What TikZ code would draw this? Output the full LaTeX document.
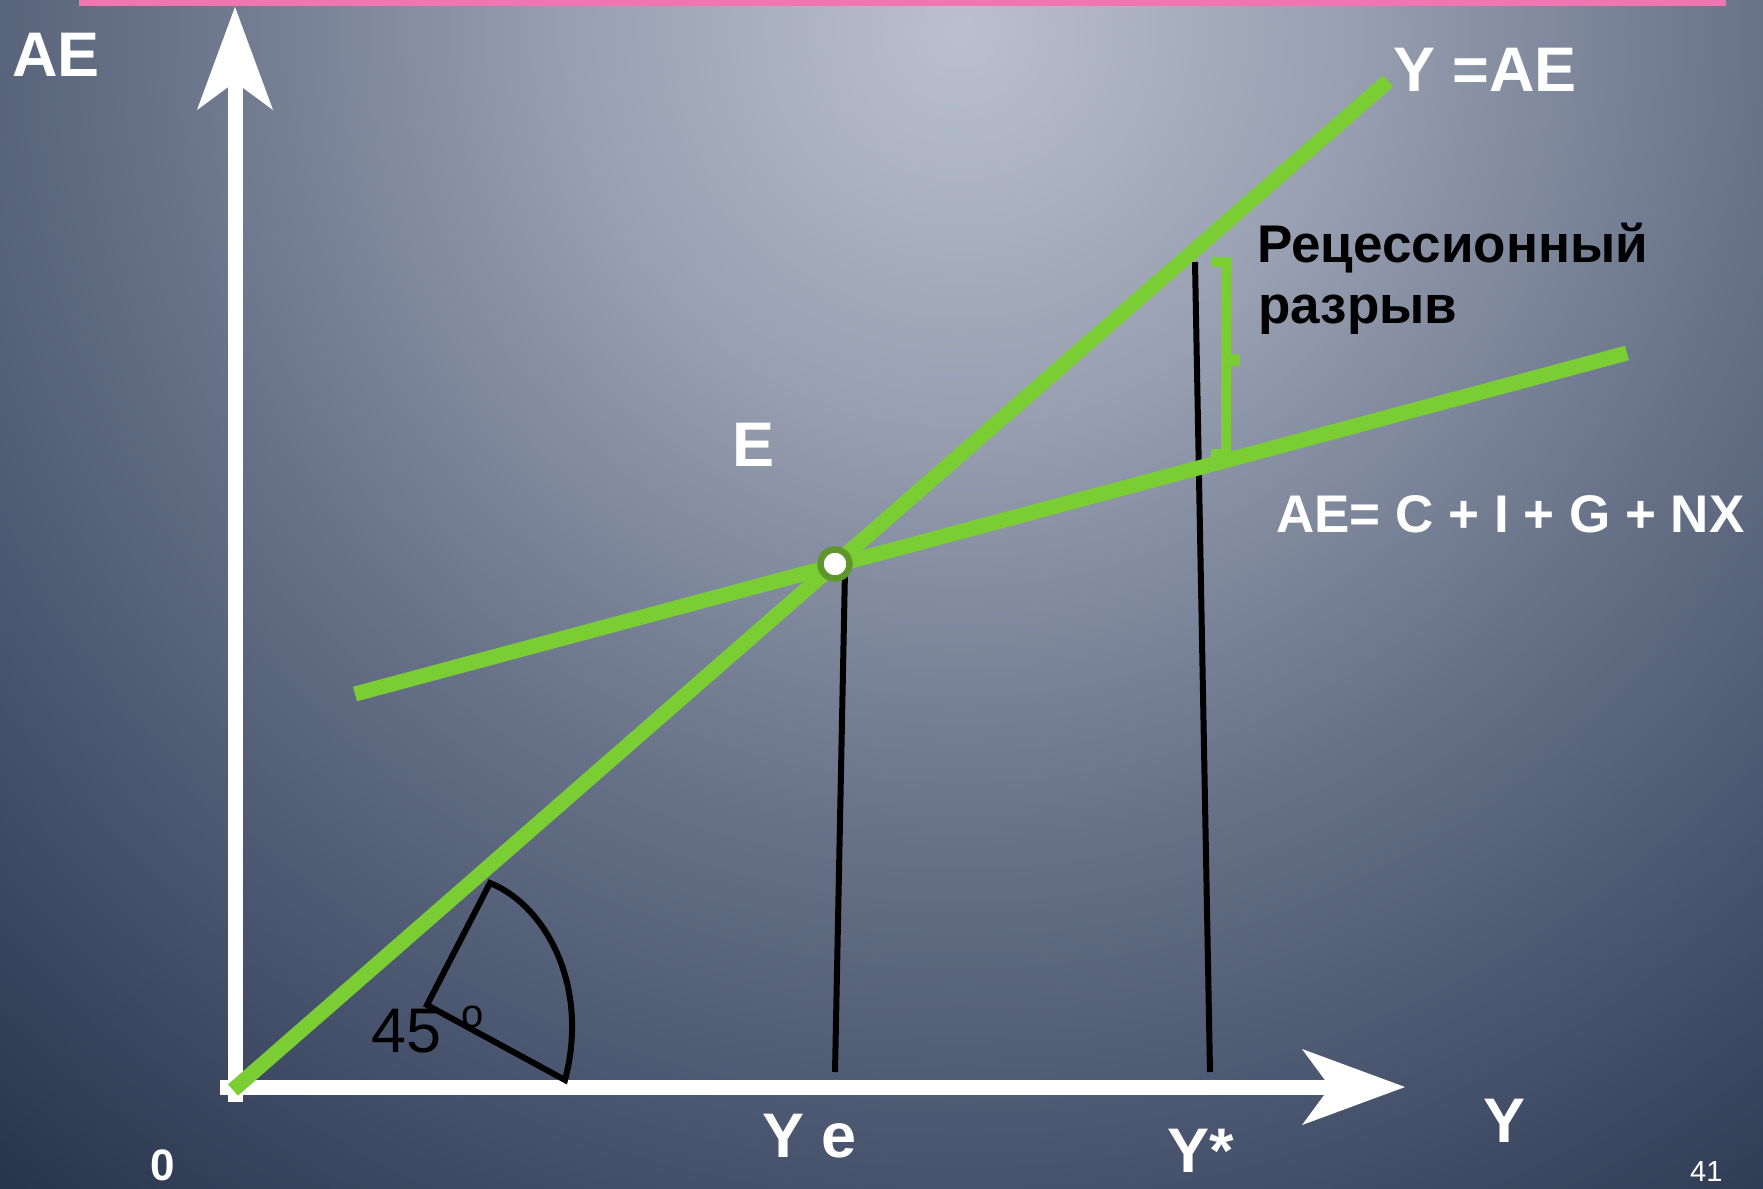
\documentclass[tikz,border=0pt]{standalone}
\usepackage{fontspec}
\setmainfont{Liberation Sans}
\usepackage{tikz}
\usetikzlibrary{arrows.meta}
\definecolor{lineGreen}{RGB}{122,206,52}
\definecolor{ringGreen}{RGB}{94,150,44}
\definecolor{barPink}{RGB}{240,118,178}
\definecolor{bgA}{RGB}{186,192,205}
\definecolor{bgB}{RGB}{152,160,177}
\definecolor{bgC}{RGB}{104,115,137}
\definecolor{bgD}{RGB}{74,86,111}
\definecolor{bgE}{RGB}{40,51,76}
\pgfdeclareradialshading{slidebg}{\pgfpoint{0bp}{0bp}}{color(0bp)=(bgA); color(6bp)=(bgB); color(12.5bp)=(bgC); color(17.5bp)=(bgD); color(23.5bp)=(bgE); color(50bp)=(bgE)}

\begin{document}
\begin{tikzpicture}[x=1pt,y=-1pt,
lbl/.style={text=white,inner sep=0pt,anchor=base west,font=\fontsize{63}{70}\selectfont\bfseries},
gaplbl/.style={text=black,inner sep=0pt,anchor=base west,font=\fontsize{53}{61}\selectfont\bfseries},
greenline/.style={draw=lineGreen,line width=15pt},
guide/.style={draw=black,line width=6pt},
axis/.style={draw=white,line width=15pt,-{Stealth[length=103pt,width=76pt,inset=28pt,line width=0pt]}}]
\useasboundingbox (0,0) rectangle (1763,1188);
% background
\begin{scope}
\clip (0,0) rectangle (1763,1188);
\shade[shading=slidebg] (960,30) circle (1600);
\fill[barPink] (79,-10) rectangle (1726,6);
\end{scope}
% axes
\coordinate (ybot) at (235,1102);
\coordinate (ytop) at (235,7);
\coordinate (xleft) at (220,1087);
\coordinate (xright) at (1405,1087);
\draw[axis] (ybot) -- (ytop);
\draw[axis] (xleft) -- (xright);
% guide lines
\coordinate (yeTop) at (845,570);
\coordinate (yeBot) at (835,1072);
\coordinate (ysTop) at (1195,262);
\coordinate (ysBot) at (1210,1072);
\draw[guide] (yeTop) -- (yeBot);
\draw[guide] (ysTop) -- (ysBot);
% 45 degree angle
\coordinate (angV) at (427,1005);
\coordinate (angA) at (490,883);
\coordinate (angB) at (565,1080);
\draw[black,line width=6pt,line join=miter] (angV) -- (angA) .. controls (545,905) and (590,985) .. (angB) -- cycle;
% curves
\coordinate (O) at (233,1090);
\coordinate (diagEnd) at (1388,81);
\coordinate (aeStart) at (355,694);
\coordinate (aeEnd) at (1627,353);
\draw[greenline] (O) -- (diagEnd);
\draw[greenline] (aeStart) -- (aeEnd);
% gap bracket
\coordinate (gapTop) at (1211,262);
\coordinate (gapBot) at (1211,454);
\draw[draw=lineGreen,line width=10pt,line join=miter] (gapTop) -- (1225.5,262) -- (1225.5,454) -- (gapBot);
\draw[draw=lineGreen,line width=12pt] (1225.5,359.5) -- (1240,359.5);
\node[circle,fill=white,draw=ringGreen,line width=6.5pt,minimum size=29pt,inner sep=0pt] (E) at (835,564) {};
% labels
\node[lbl] (aeAxis) at (12,77) {AE};
\node[lbl] (diagLbl) at (1393,92) {Y =AE};
\node[gaplbl] (gap1) at (1257,262) {Рецессионный};
\node[gaplbl] (gap2) at (1258,323) {разрыв};
\node[lbl,font=\fontsize{53}{60}\selectfont\bfseries] (aeLbl) at (1276,532) {AE= C + I + G + NX};
\node[lbl] (eLbl) at (732,466) {E};
\node[lbl] (yeLbl) at (762,1157) {Y e};
\node[lbl] (ysLbl) at (1167,1172) {Y*};
\node[lbl] (yAxis) at (1483,1142) {Y};
\node[lbl,font=\fontsize{44}{50}\selectfont\bfseries] (zero) at (150,1180) {0};
\node[lbl,font=\fontsize{29}{32}\selectfont] (pageNo) at (1690,1181) {41};
\node[lbl,text=black,font=\fontsize{63}{70}\selectfont] (angLbl) at (371,1052) {45\hspace{20pt}\raisebox{25pt}{\fontsize{40}{40}\selectfont o}};
\end{tikzpicture}
\end{document}
